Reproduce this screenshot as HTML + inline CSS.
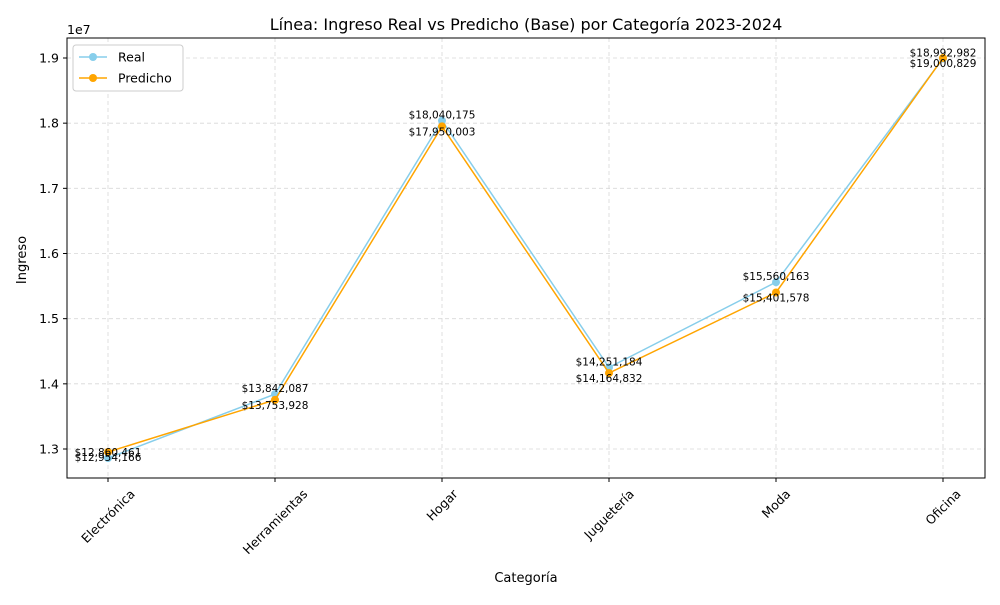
<!DOCTYPE html>
<html><head><meta charset="utf-8"><style>
body{margin:0;background:#fff;font-family:"Liberation Sans","DejaVu Sans",sans-serif}
svg text{font-family:"DejaVu Sans","Liberation Sans",sans-serif}
</style></head><body>
<svg width="1000" height="600" xmlns="http://www.w3.org/2000/svg">
<rect width="1000" height="600" fill="#fff"/>
<g id="g"></g>
</svg>
<script>
const categories=["Electrónica","Herramientas","Hogar","Juguetería","Moda","Oficina"];
const realValues=[12860461,13842087,18040175,14251184,15560163,18992982];
const predValues=[12954166,13753928,17950003,14164832,15401578,19000829];
const yTicks=[1.3,1.4,1.5,1.6,1.7,1.8,1.9];
const L=67,R=985,T=38,B=478;
const x=i=>108+i*(943-108)/(categories.length-1);
const y=v=>449-(v-13e6)*(391/6e6);
const g=document.getElementById('g');
const NS='http://www.w3.org/2000/svg';
function mk(t,a,txt){const e=document.createElementNS(NS,t);for(const k in a)e.setAttribute(k,a[k]);if(txt!==undefined)e.textContent=txt;g.appendChild(e);return e;}
const fmt=v=>'$'+v.toLocaleString('en-US');
yTicks.forEach(t=>{const yy=y(t*1e7);
let e=mk('line',{x1:L,x2:R,y1:yy,y2:yy,stroke:'#d8d8d8','stroke-dasharray':'4,3','stroke-width':0.8});

mk('line',{x1:L-4,x2:L,y1:yy,y2:yy,stroke:'#000'});
e=mk('text',{x:L-8,y:yy+4.5,'text-anchor':'end','font-size':12.5},t.toFixed(1));

});
categories.forEach((c,i)=>{const xx=x(i);
let e=mk('line',{x1:xx,x2:xx,y1:T,y2:B,stroke:'#d8d8d8','stroke-dasharray':'4,3','stroke-width':0.8});

mk('line',{x1:xx,x2:xx,y1:B,y2:B+4,stroke:'#000'});
e=mk('text',{x:0,y:0,'text-anchor':'middle','font-size':12.5},c);

const len=e.getComputedTextLength();
const h=(len+13)*0.7071;
const cy=B+9+h/2;
e.setAttribute('x',xx);e.setAttribute('y',cy+4.5);
e.setAttribute('transform',`rotate(-45 ${xx} ${cy})`);
});
let ax=mk('rect',{x:L,y:T,width:R-L,height:B-T,fill:'none',stroke:'#000','stroke-width':1});

function series(vals,color,name){
const p=mk('polyline',{points:vals.map((v,i)=>x(i)+','+y(v)).join(' '),fill:'none',stroke:color,'stroke-width':1.5});

vals.forEach((v,i)=>{const c=mk('circle',{cx:x(i),cy:y(v),r:4,fill:color});
});
}
series(realValues,'#87ceeb','real');
series(predValues,'#ffa500','predicted');
realValues.forEach((v,i)=>{const t=mk('text',{x:x(i),y:y(v)-2,'text-anchor':'middle','font-size':10.5},fmt(v));
});
predValues.forEach((v,i)=>{const t=mk('text',{x:x(i),y:y(v)+9,'text-anchor':'middle','font-size':10.5},fmt(v));
});
let e=mk('text',{x:526,y:30,'text-anchor':'middle','font-size':16},'Línea: Ingreso Real vs Predicho (Base) por Categoría 2023-2024');

e=mk('text',{x:67,y:34,'font-size':12.5},'1e7');
e=mk('text',{x:526,y:582,'text-anchor':'middle','font-size':13},'Categoría');
e=mk('text',{x:26,y:260,'text-anchor':'middle','font-size':13,transform:'rotate(-90 26 260)'},'Ingreso');
e=mk('rect',{x:73,y:45,width:110,height:46,rx:3,fill:'#fff',stroke:'#ccc'});
[['Real','#87ceeb',57],['Predicho','#ffa500',78]].forEach(([n,c,yy])=>{
mk('line',{x1:79,x2:107,y1:yy,y2:yy,stroke:c,'stroke-width':1.5});
mk('circle',{cx:93,cy:yy,r:4,fill:c});
const t=mk('text',{x:118,y:yy+4.5,'font-size':12.5},n);

});
</script>
</body></html>
